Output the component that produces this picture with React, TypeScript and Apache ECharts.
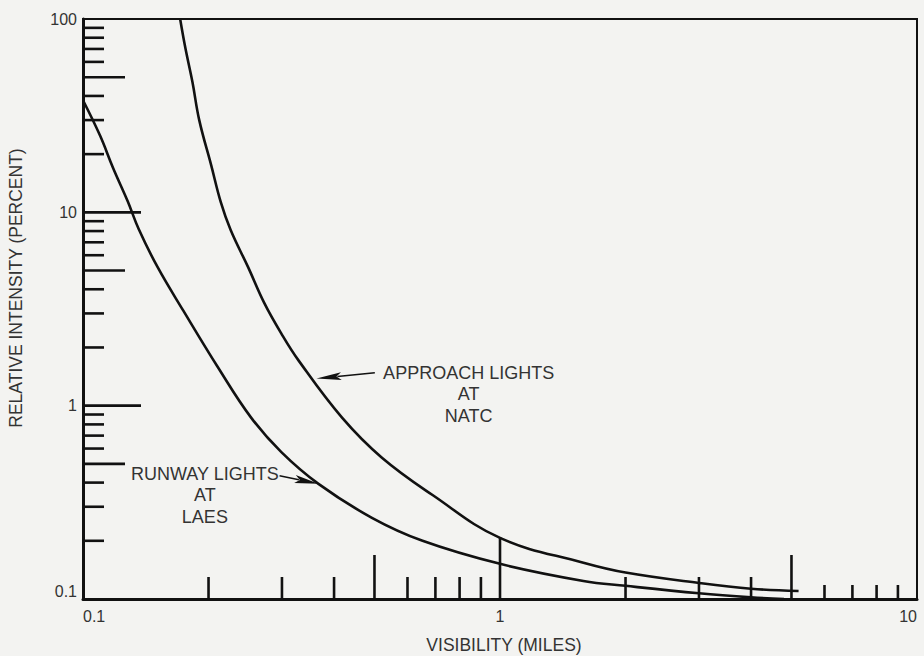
import React, { useEffect, useRef } from 'react';
import * as echarts from 'echarts';

// ---- data ----
const X_MIN = 0.1;
const X_MAX = 10;
const Y_MIN = 0.1;
const Y_MAX = 100;

// Approach lights at NATC
const approachVisibility = [0.171, 0.176, 0.183, 0.19, 0.203, 0.214, 0.226, 0.249, 0.272, 0.299, 0.329, 0.418, 0.521, 0.689, 1.0, 1.585, 2.0, 3.0, 4.0, 5.2];
const approachIntensity = [100, 70.7, 47.2, 30, 17.5, 11.3, 8.1, 5.19, 3.4, 2.36, 1.71, 0.867, 0.538, 0.345, 0.207, 0.154, 0.137, 0.121, 0.113, 0.11];

// Runway lights at LAES
const runwayVisibility = [0.1, 0.11, 0.118, 0.128, 0.136, 0.151, 0.174, 0.211, 0.253, 0.299, 0.367, 0.493, 0.652, 1.0, 1.585, 2.0, 3.0, 4.0, 4.8];
const runwayIntensity = [38, 24.8, 17.0, 11.4, 8.2, 5.2, 3.1, 1.57, 0.867, 0.575, 0.394, 0.263, 0.2, 0.152, 0.124, 0.117, 0.107, 0.102, 0.1];

// Tick marks drawn inside the frame
const yMinorTicks = [0.2, 0.3, 0.4, 0.6, 0.7, 0.8, 0.9, 2, 3, 4, 6, 7, 8, 9, 20, 30, 40, 60, 70, 80, 90];
const yMidTicks = [0.5, 5, 50];
const yMajorTicks = [1, 10];
const xMinorTicks = [0.2, 0.3, 0.4, 0.6, 0.7, 0.8, 0.9, 2, 3, 4];
const xShortTicks = [6, 7, 8, 9];
const xMidTicks = [0.5, 5];
const xMajorTicks = [1];

// Annotations
const approachLines = ['APPROACH LIGHTS', 'AT', 'NATC'];
const runwayLines = ['RUNWAY LIGHTS', 'AT', 'LAES'];
const approachTextAnchor = [0.841, 1.48];
const runwayTextAnchor = [0.196, 0.445];
const approachArrow = { tail: [0.501, 1.48], tip: [0.363, 1.38] };
const runwayArrow = { tail: [0.296, 0.434], tip: [0.367, 0.394] };

const FONT = '"Liberation Sans", Arial, Helvetica, sans-serif';
const INK = '#111';
const TEXT = '#333';

function tickSeries(values: number[], axis: 'x' | 'y', len: number) {
  return {
    type: 'custom',
    silent: true,
    clip: false,
    z: 3,
    encode: { x: 0, y: 1 },
    data: values.map((v) => (axis === 'x' ? [v, Y_MIN] : [X_MIN, v])),
    renderItem: (params: any, api: any) => {
      const p = api.coord([api.value(0), api.value(1)]);
      const shape =
        axis === 'x'
          ? { x1: p[0], y1: p[1], x2: p[0], y2: p[1] - len }
          : { x1: p[0], y1: p[1], x2: p[0] + len, y2: p[1] };
      return { type: 'line', shape, style: { stroke: INK, lineWidth: 2.6 } };
    },
  };
}

function arrowGraphics(tail: number[], tip: number[], headLen: number, headHalf: number) {
  const dx = tip[0] - tail[0];
  const dy = tip[1] - tail[1];
  const L = Math.hypot(dx, dy) || 1;
  const ux = dx / L;
  const uy = dy / L;
  const nx = -uy;
  const ny = ux;
  const bx = tip[0] - ux * headLen;
  const by = tip[1] - uy * headLen;
  return [
    {
      type: 'line',
      silent: true,
      shape: { x1: tail[0], y1: tail[1], x2: bx + ux * 4, y2: by + uy * 4 },
      style: { stroke: INK, lineWidth: 1.6 },
    },
    {
      type: 'polygon',
      silent: true,
      shape: {
        points: [
          [tip[0], tip[1]],
          [bx + nx * headHalf, by + ny * headHalf],
          [bx + ux * 5, by + uy * 5],
          [bx - nx * headHalf, by - ny * headHalf],
        ],
      },
      style: { fill: INK },
    },
  ];
}

export default function App() {
  const ref = useRef<HTMLDivElement>(null);

  useEffect(() => {
    document.body.style.margin = '0';
    if (!ref.current) return;
    const chart = echarts.init(ref.current, undefined, { renderer: 'svg' });

    const axisCommon = {
      type: 'log',
      logBase: 10,
      nameLocation: 'middle',
      axisLine: { show: true, onZero: false, lineStyle: { color: INK, width: 3 } },
      axisTick: { show: false },
      minorTick: { show: false },
      splitLine: { show: false },
      minorSplitLine: { show: false },
    };

    const option: any = {
      animation: false,
      backgroundColor: '#f3f3f1',
      grid: {
        left: 83,
        right: 7,
        top: 19,
        bottom: 57,
        show: true,
        borderColor: INK,
        borderWidth: 2,
        containLabel: false,
        outerBoundsMode: 'none',
      },
      xAxis: {
        ...axisCommon,
        min: X_MIN,
        max: X_MAX,
        name: 'VISIBILITY (MILES)',
        nameGap: 37,
        nameTextStyle: { fontFamily: FONT, fontSize: 17.5, color: TEXT, padding: [0, 0, 0, 8] },
        axisLabel: {
          fontFamily: FONT,
          fontSize: 16,
          color: TEXT,
          margin: 9,
          alignMinLabel: 'left',
          alignMaxLabel: 'right',
        },
      },
      yAxis: {
        ...axisCommon,
        min: Y_MIN,
        max: Y_MAX,
        name: 'RELATIVE INTENSITY (PERCENT)',
        nameGap: 58,
        nameTextStyle: { fontFamily: FONT, fontSize: 17.5, color: TEXT, padding: [0, 0, 0, 42] },
        axisLabel: {
          fontFamily: FONT,
          fontSize: 16,
          color: TEXT,
          margin: 6,
          verticalAlignMinLabel: 'bottom',
        },
      },
      series: [
        {
          name: 'Approach lights at NATC',
          type: 'line',
          data: approachVisibility.map((v, i) => [v, approachIntensity[i]]),
          showSymbol: false,
          smooth: 0.4,
          clip: true,
          lineStyle: { color: INK, width: 2.6 },
          z: 4,
        },
        {
          name: 'Runway lights at LAES',
          type: 'line',
          data: runwayVisibility.map((v, i) => [v, runwayIntensity[i]]),
          showSymbol: false,
          smooth: 0.4,
          clip: true,
          lineStyle: { color: INK, width: 2.6 },
          z: 4,
        },
        tickSeries(yMinorTicks, 'y', 21),
        tickSeries(yMidTicks, 'y', 42),
        tickSeries(yMajorTicks, 'y', 58),
        tickSeries(xMinorTicks, 'x', 22),
        tickSeries(xShortTicks, 'x', 14),
        tickSeries(xMidTicks, 'x', 44),
        tickSeries(xMajorTicks, 'x', 62),
      ],
    };

    chart.setOption(option);

    const toPx = (p: number[]) => chart.convertToPixel({ gridIndex: 0 }, p) as number[];
    const lineH = 21.5;
    const textBlock = (anchor: number[], lines: string[]) => {
      const p = toPx(anchor);
      return {
        type: 'text',
        silent: true,
        x: p[0],
        y: p[1] - lineH / 2,
        style: {
          text: lines.join('\n'),
          fontFamily: FONT,
          fontSize: 18,
          fill: TEXT,
          align: 'center',
          verticalAlign: 'top',
          lineHeight: lineH,
        },
      };
    };

    chart.setOption({
      graphic: [
        textBlock(approachTextAnchor, approachLines),
        textBlock(runwayTextAnchor, runwayLines),
        ...arrowGraphics(toPx(approachArrow.tail), toPx(approachArrow.tip), 25, 4),
        ...arrowGraphics(toPx(runwayArrow.tail), toPx(runwayArrow.tip), 24, 4),
      ],
    });

    return () => {
      chart.dispose();
    };
  }, []);

  return <div ref={ref} style={{ width: 924, height: 656 }} />;
}
